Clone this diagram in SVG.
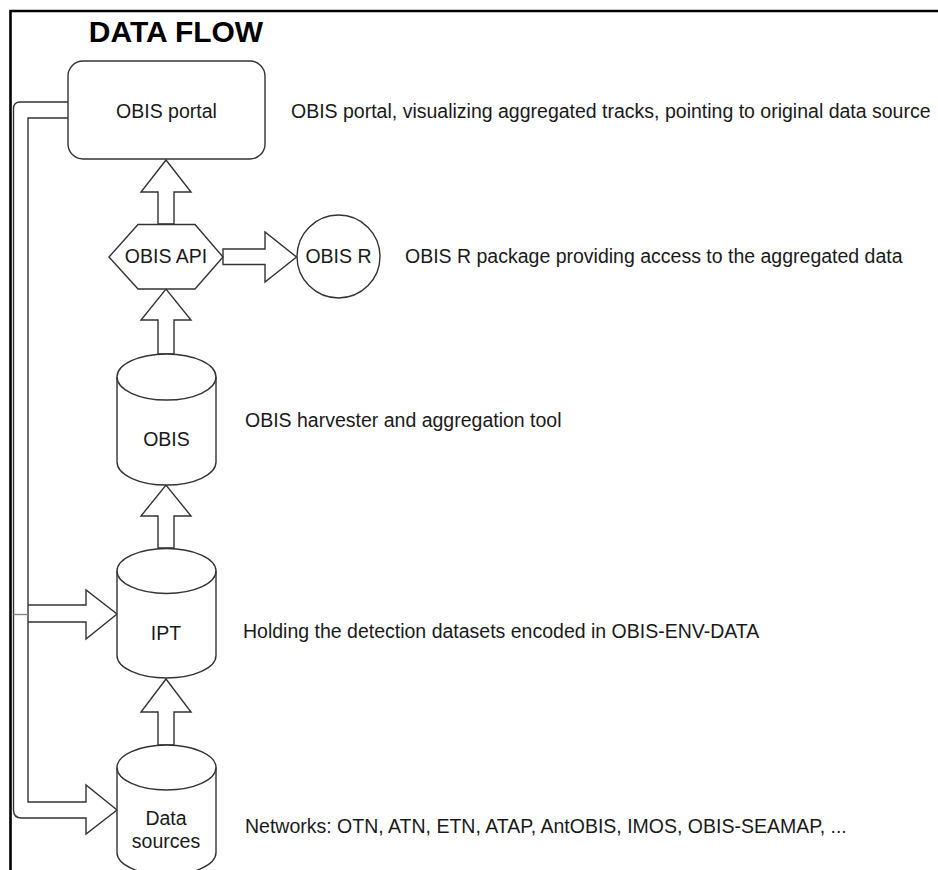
<svg xmlns="http://www.w3.org/2000/svg" width="938" height="870" viewBox="0 0 938 870">
  <style>
    .shape { fill: #ffffff; stroke: #333333; stroke-width: 1.4; stroke-linejoin: miter; }
    .line { fill: none; stroke: #333333; stroke-width: 1.4; }
    .frame { fill: none; stroke: #000000; stroke-width: 2.6; }
    text { font-family: "Liberation Sans", Arial, Helvetica, sans-serif; font-size: 19.5px; fill: #1a1a1a; }
    .label { text-anchor: middle; }
    .title { font-size: 30px; font-weight: bold; text-anchor: middle; fill: #000000; }
  </style>
  <rect x="0" y="0" width="938" height="870" fill="#ffffff"/>
  <path class="frame" d="M10.5,870 V11 H938"/>
  <text class="title" x="176" y="42">DATA FLOW</text>

  <g id="connectors">
    <!-- portal to Data sources (wide arrow) -->
    <path id="edge-portal-ds" class="shape" d="M68,102 H20 Q13.5,102 13.5,108.5 V810 Q13.5,818 21.5,818 H86 V834 L117,810 L86,785 V802 H28 V118 H68"/>
    <!-- portal to IPT (wide arrow branch) -->
    <g id="edge-portal-ipt">
      <path d="M29,605 H86 V590 L117,614 L86,639 V622 H29 Z" fill="#ffffff" stroke="none"/>
      <path class="line" d="M28,605 H86 V590 L117,614 L86,639 V622 H28"/>
      <path d="M13.5,614.5 H28" fill="none" stroke="#888888" stroke-width="1.4"/>
    </g>
    <!-- API to portal -->
    <path id="edge-api-portal" class="shape" d="M158,224 V192 H141 L166,160 L191,192 H174 V224 Z"/>
    <!-- OBIS to API -->
    <path id="edge-obis-api" class="shape" d="M158,354 V320 H141 L166,289 L191,320 H174 V354 Z"/>
    <!-- IPT to OBIS -->
    <path id="edge-ipt-obis" class="shape" d="M158,548 V516 H141 L166,485 L191,516 H174 V548 Z"/>
    <!-- Data sources to IPT -->
    <path id="edge-ds-ipt" class="shape" d="M158,745 V712 H141 L166,679 L191,712 H174 V745 Z"/>
    <!-- API to OBIS R -->
    <path id="edge-api-r" class="shape" d="M223,249 H265 V232 L296.5,257 L265,282 V264.5 H223 Z"/>
  </g>

  <g id="node-portal">
    <rect class="shape" x="68" y="61" width="197" height="98" rx="15" ry="15"/>
    <text class="label" x="166.5" y="118">OBIS portal</text>
  </g>
  <text id="desc-portal" x="291" y="118">OBIS portal, visualizing aggregated tracks, pointing to original data source</text>

  <g id="node-api">
    <polygon class="shape" points="109,257 138,224.5 195,224.5 223,257 195,289 138,289"/>
    <text class="label" x="166" y="263">OBIS API</text>
  </g>

  <g id="node-r">
    <circle class="shape" cx="338.5" cy="256.5" r="41.5"/>
    <text class="label" x="338.5" y="263">OBIS R</text>
  </g>
  <text id="desc-r" x="405" y="263">OBIS R package providing access to the aggregated data</text>

  <g id="node-obis">
    <path class="shape" d="M117,377 A49.5,23 0 0,1 216,377 V462 A49.5,23 0 0,1 117,462 Z"/>
    <path class="line" d="M117,377 A49.5,23 0 0,0 216,377"/>
    <text class="label" x="166.5" y="446">OBIS</text>
  </g>
  <text id="desc-obis" x="245" y="427">OBIS harvester and aggregation tool</text>

  <g id="node-ipt">
    <path class="shape" d="M117,571 A49.5,22.5 0 0,1 216,571 V655.5 A49.5,22.5 0 0,1 117,655.5 Z"/>
    <path class="line" d="M117,571 A49.5,22.5 0 0,0 216,571"/>
    <text class="label" x="166" y="640">IPT</text>
  </g>
  <text id="desc-ipt" x="243" y="638">Holding the detection datasets encoded in OBIS-ENV-DATA</text>

  <g id="node-ds">
    <path class="shape" d="M117,767.5 A49.5,22.5 0 0,1 216,767.5 V852.5 A49.5,22.5 0 0,1 117,852.5 Z"/>
    <path class="line" d="M117,767.5 A49.5,22.5 0 0,0 216,767.5"/>
    <text class="label" x="166" y="825">Data</text>
    <text class="label" x="166" y="848">sources</text>
  </g>
  <text id="desc-ds" x="245" y="833">Networks: OTN, ATN, ETN, ATAP, AntOBIS, IMOS, OBIS-SEAMAP, ...</text>
</svg>
